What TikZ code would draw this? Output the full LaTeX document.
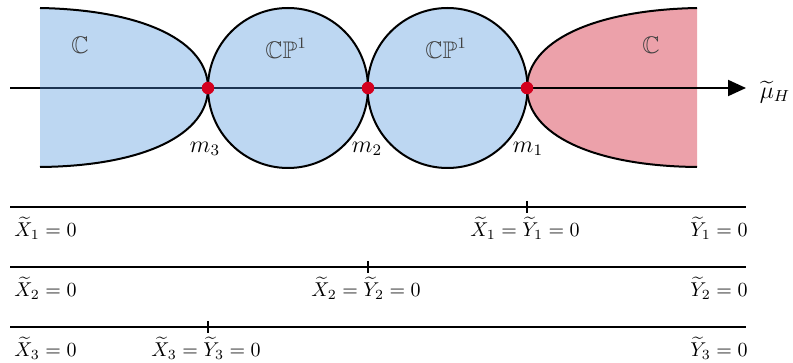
\documentclass[tikz,border=0pt]{standalone}
\usepackage{amsmath,amssymb}
\usetikzlibrary{arrows.meta}
\definecolor{regblue}{RGB}{189,215,242}
\definecolor{regred}{RGB}{236,161,170}
\definecolor{dotred}{RGB}{212,0,30}
\definecolor{axisblue}{RGB}{28,52,82}
\tikzset{
  region/.style={line width=1pt},
  dotnode/.style={circle,fill=dotred,inner sep=0pt,minimum size=6.2pt},
  bar/.style={line width=0.8pt},
  tick/.style={line width=0.8pt},
  lab/.style={inner sep=0pt,font=\normalsize},
  biglab/.style={inner sep=0pt,font=\large},
}
\begin{document}
\begin{tikzpicture}[x=0.5pt,y=-0.5pt]
\useasboundingbox (0,0) rectangle (793,363);
% left C region
\fill[regblue] (40,8) .. controls (145,10) and (208,42) .. (208,88)
  .. controls (208,134) and (145,166) .. (40,167) -- cycle;
\draw[region] (40,8) .. controls (145,10) and (208,42) .. (208,88)
  .. controls (208,134) and (145,166) .. (40,167);
% right C region
\fill[regred] (697,8) .. controls (592,10) and (527,42) .. (527,88)
  .. controls (527,134) and (592,166) .. (697,167) -- cycle;
\draw[region] (697,8) .. controls (592,10) and (527,42) .. (527,88)
  .. controls (527,134) and (592,166) .. (697,167);
% spheres
\draw[region,fill=regblue] (288,88) circle[radius=40pt];
\draw[region,fill=regblue] (447.5,88) circle[radius=40pt];
% points
\node[dotnode] (m3) at (208,88) {};
\node[dotnode] (m2) at (368,88) {};
\node[dotnode] (m1) at (527,88) {};
% axis
\coordinate (a0) at (10,88);
\coordinate (b0) at (40,88);
\coordinate (a1) at (746,88);
\draw[line width=1pt,-{Triangle[length=9pt,width=8pt]}] (a0) -- (a1);
\draw[line width=1pt,axisblue] (b0) -- (m1.center);
\node[dotnode] at (m3) {};
\node[dotnode] at (m2) {};
\node[dotnode] at (m1) {};
\node[biglab] (mu) at (775,92) {$\widetilde{\mu}_H$};
% labels
\node[biglab,text=black!75] (c1) at (80,45) {$\mathbb{C}$};
\node[biglab,text=black!75] (cp1) at (286,48) {$\mathbb{CP}^1$};
\node[biglab,text=black!75] (cp2) at (446,48) {$\mathbb{CP}^1$};
\node[biglab,text=black!75] (c2) at (651,45) {$\mathbb{C}$};
\node[biglab] (l3) at (205,149) {$m_3$};
\node[biglab] (l2) at (367,149) {$m_2$};
\node[biglab] (l1) at (528,149) {$m_1$};
% bottom lines
\foreach \i/\yy/\tx in {1/207/527, 2/267/368, 3/327/208}{
  \coordinate (s\i) at (10,\yy);
  \coordinate (e\i) at (746,\yy);
  \draw[bar] (s\i) -- (e\i);
  \coordinate (t\i) at (\tx,\yy);
  \draw[tick] ([yshift=3pt]t\i) -- ([yshift=-3pt]t\i);
  \node[lab,anchor=west] (lx\i) at (14,\yy+21) {$\widetilde{X}_\i = 0$};
  \node[lab,anchor=east] (ly\i) at (748,\yy+21) {$\widetilde{Y}_\i = 0$};
  \node[lab] (lm\i) at (\tx-2,\yy+21) {$\widetilde{X}_\i = \widetilde{Y}_\i = 0$};
}
\end{tikzpicture}
\end{document}
